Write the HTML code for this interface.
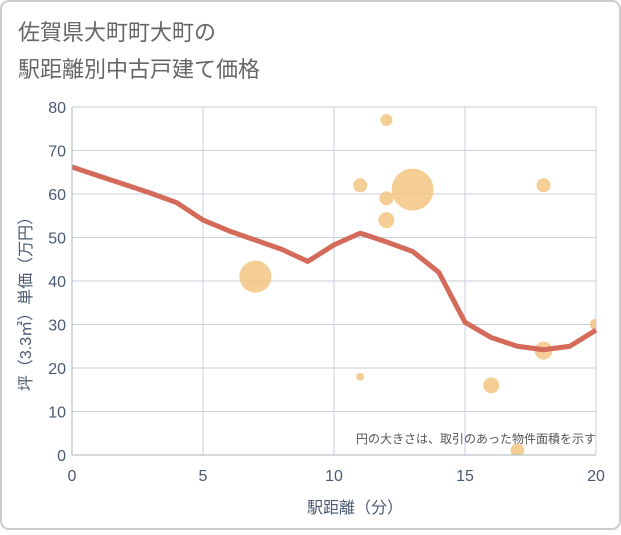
<!DOCTYPE html>
<html><head><meta charset="utf-8"><style>
body{margin:0;background:#fff;}
svg text{font-family:"Liberation Sans","Noto Sans CJK JP",sans-serif;}
</style></head><body>
<svg width="621" height="530" viewBox="0 0 621 530">
<rect x="1" y="1" width="619" height="528" rx="8" fill="#fff" stroke="#ccc" stroke-width="2"/>
<text x="18" y="40" font-size="22" fill="#666">佐賀県大町町大町の</text>
<text x="18" y="77" font-size="22" fill="#666">駅距離別中古戸建て価格</text>
<g id="grid"></g>
<g id="bubbles"></g>
<g id="line"></g>
<g id="axes"></g>
<text x="596" y="443" font-size="12" fill="#555" text-anchor="end">円の大きさは、取引のあった物件面積を示す</text>
<text x="355" y="513" font-size="16" fill="#4a5a72" text-anchor="middle">駅距離（分）</text>
<text transform="translate(31,300) rotate(-90)" font-size="16" fill="#4a5a72" text-anchor="middle">坪（3.3㎡）単価（万円）</text>
</svg>
<script>
const xTicks=[0,5,10,15,20];
const yTicks=[0,10,20,30,40,50,60,70,80];
const lineX=[0,1,2,3,4,5,6,7,8,9,10,11,12,13,14,15,16,17,18,19,20];
const lineY=[66.2,64.2,62.2,60.2,58,54,51.5,49.4,47.3,44.5,48.3,51,49,46.8,42,30.5,27,25,24.2,25,28.7];
const bubX=[7,11,11,12,12,12,13,16,17,18,18,20];
const bubY=[41,62,18,77,59,54,61,16,1,62,24,30];
const bubR=[16,7,4,6,7,8,21,8,7,7,9,6];
const NS="http://www.w3.org/2000/svg";
const X0=72,X1=596,Y0=455,Y1=107;
function sx(v){return X0+(v-0)/20*(X1-X0);}
function sy(v){return Y0-(v-0)/80*(Y0-Y1);}
function mk(t,a,p){const e=document.createElementNS(NS,t);for(const k in a)e.setAttribute(k,a[k]);p.appendChild(e);return e;}
const grid=document.getElementById('grid'),axes=document.getElementById('axes');
xTicks.forEach(v=>{
 const l=mk('line',{x1:sx(v),x2:sx(v),y1:Y1,y2:Y0,stroke:'#c8d2de'},grid);
 
 
 const t=mk('text',{x:sx(v),y:Y0+26,'font-size':16,fill:'#4a5a72','text-anchor':'middle'},axes);
 t.textContent=v;
 
 
});
yTicks.forEach(v=>{
 const l=mk('line',{x1:X0,x2:X1,y1:sy(v),y2:sy(v),stroke:'#c8d2de'},grid);
 
 
 const t=mk('text',{x:X0-6,y:sy(v)+6,'font-size':16,fill:'#4a5a72','text-anchor':'end'},axes);
 t.textContent=v;
 
 
});
const ax=mk('path',{d:`M${X0} ${Y1}V${Y0}H${X1}`,fill:'none',stroke:'#aab4c0'},axes);


const bg=document.getElementById('bubbles');
const cp=mk('clipPath',{id:'clip'},bg);mk('rect',{x:X0,y:Y1,width:X1-X0,height:Y0-Y1},cp);
bubX.forEach((x,i)=>{
 const c=mk('circle',{cx:sx(x),cy:sy(bubY[i]),r:bubR[i],fill:'#f3c27a','fill-opacity':0.8,'clip-path':'url(#clip)'},bg);
 
 
});
const p=mk('polyline',{points:lineX.map((x,i)=>sx(x)+','+sy(lineY[i])).join(' '),fill:'none',stroke:'#d46a5a','stroke-width':5,'stroke-linejoin':'round'},document.getElementById('line'));


</script>
</body></html>
